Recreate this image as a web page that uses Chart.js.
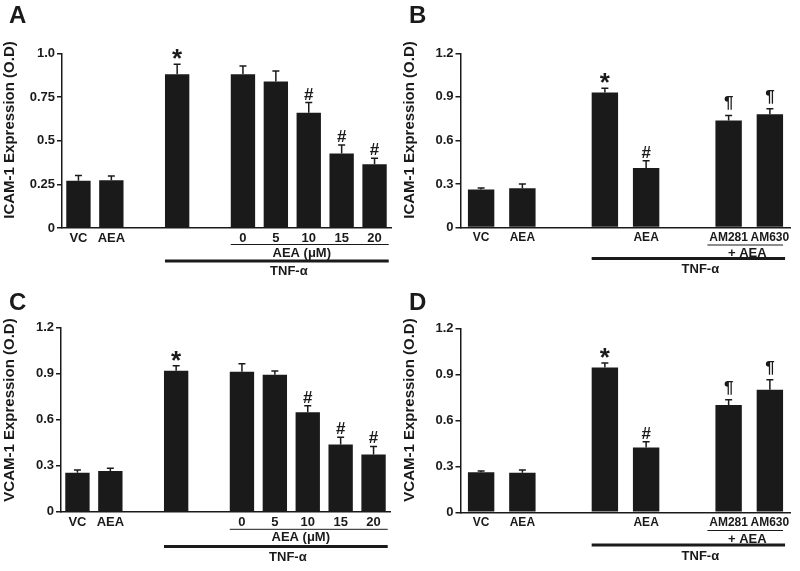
<!DOCTYPE html>
<html>
<head>
<meta charset="utf-8">
<script src="https://cdn.jsdelivr.net/npm/chart.js@4"></script>
<style>
  body { margin: 0; background: #fff; }
  #wrap { position: relative; width: 800px; height: 571px; }
  canvas { position: absolute; }
</style>
</head>
<body>
<div id="wrap">
  <canvas id="chartA" width="400" height="285" style="left:0;top:0"></canvas>
  <canvas id="chartB" width="400" height="285" style="left:400px;top:0"></canvas>
  <canvas id="chartC" width="400" height="286" style="left:0;top:285px"></canvas>
  <canvas id="chartD" width="400" height="286" style="left:400px;top:285px"></canvas>
</div>
<script>
// dose panels (A, C): VC, AEA, gap, TNF, gap, TNF + AEA 0..20 uM
const doseLabels = ['VC', 'AEA', '', '', '', '0', '5', '10', '15', '20'];
const doseMarks = ['', '', '', '*', '', '', '', '#', '#', '#'];
const icamDose = [0.27, 0.273, null, 0.88, null, 0.88, 0.838, 0.66, 0.427, 0.365];
const icamDoseErr = [0.03, 0.025, null, 0.057, null, 0.047, 0.061, 0.058, 0.048, 0.034];
const vcamDose = [0.254, 0.265, null, 0.918, null, 0.911, 0.892, 0.647, 0.438, 0.373];
const vcamDoseErr = [0.017, 0.017, null, 0.032, null, 0.052, 0.024, 0.043, 0.046, 0.052];

// antagonist panels (B, D): VC, AEA, gap, TNF, TNF+AEA, gap, AM281, AM630
const antLabels = ['VC', 'AEA', '', '', 'AEA', '', 'AM281', 'AM630'];
const antMarks = ['', '', '', '*', '#', '', '¶', '¶'];
const icamAnt = [0.261, 0.27, null, 0.93, 0.41, null, 0.737, 0.78];
const icamAntErr = [0.011, 0.03, null, 0.03, 0.05, null, 0.035, 0.038];
const vcamAnt = [0.262, 0.258, null, 0.944, 0.423, null, 0.70, 0.80];
const vcamAntErr = [0.008, 0.018, null, 0.03, 0.037, null, 0.034, 0.065];

const yTicksA = [0, 0.25, 0.5, 0.75, 1.0];
const yTickLabelsA = ['0', '0.25', '0.5', '0.75', '1.0'];
const yTicks12 = [0, 0.3, 0.6, 0.9, 1.2];
const yTickLabels12 = ['0', '0.3', '0.6', '0.9', '1.2'];

const FONT = '"Liberation Sans", Arial, Helvetica, sans-serif';
const INK = '#1a1a1a';

const extras = {
  id: 'extras',
  afterDatasetsDraw(chart) {
    const p = chart.options.plugins.extras;
    const ctx = chart.ctx;
    const meta = chart.getDatasetMeta(0);
    const y = chart.scales.y;
    ctx.save();
    ctx.strokeStyle = INK;
    ctx.fillStyle = INK;
    ctx.lineWidth = 1.5;
    meta.data.forEach((bar, i) => {
      const v = p.values[i];
      if (v == null) return;
      const top = y.getPixelForValue(v + p.errors[i]);
      ctx.beginPath();
      ctx.moveTo(bar.x, bar.y);
      ctx.lineTo(bar.x, top);
      ctx.moveTo(bar.x - 3.5, top);
      ctx.lineTo(bar.x + 3.5, top);
      ctx.stroke();
      const m = p.marks[i];
      if (m) {
        const size = m === '*' ? 26 : 17;
        ctx.font = 'bold ' + size + 'px ' + FONT;
        ctx.textAlign = 'center';
        ctx.textBaseline = 'alphabetic';
        const d = ctx.measureText(m).actualBoundingBoxDescent;
        const gap = m === '#' ? 3 : 5;
        ctx.fillText(m, bar.x, top - gap - d);
      }
    });
    ctx.restore();
  },
  afterDraw(chart) {
    const p = chart.options.plugins.extras;
    const ctx = chart.ctx;
    const meta = chart.getDatasetMeta(0);
    ctx.save();
    ctx.fillStyle = INK;
    ctx.strokeStyle = INK;
    // panel letter
    ctx.font = 'bold 24px ' + FONT;
    ctx.textAlign = 'left';
    ctx.textBaseline = 'alphabetic';
    ctx.fillText(p.letter, 9, p.letterY);
    // y title
    ctx.save();
    ctx.translate(p.titleX, p.titleY);
    ctx.rotate(-Math.PI / 2);
    ctx.font = 'bold 15px ' + FONT;
    ctx.textAlign = 'center';
    ctx.textBaseline = 'middle';
    ctx.fillText(p.title, 0, 0);
    ctx.restore();
    // brackets under the axis
    ctx.font = 'bold 13px ' + FONT;
    ctx.textAlign = 'center';
    ctx.textBaseline = 'middle';
    p.brackets.forEach(b => {
      const a = meta.data[b.from], z = meta.data[b.to];
      const x0 = a.x - a.width / 2 + b.dl;
      const x1 = z.x + z.width / 2 + b.dr;
      ctx.lineWidth = b.w;
      ctx.beginPath();
      ctx.moveTo(x0, b.y);
      ctx.lineTo(x1, b.y);
      ctx.stroke();
      ctx.fillText(b.text, (x0 + x1) / 2 + b.dx, b.ty);
    });
    ctx.restore();
  }
};

function panel(id, cfg) {
  const canvas = document.getElementById(id);
  const H = canvas.height;
  return new Chart(canvas.getContext('2d'), {
    type: 'bar',
    data: {
      labels: cfg.labels,
      datasets: [{
        data: cfg.values,
        backgroundColor: INK,
        borderWidth: 0,
        barPercentage: cfg.barPct,
        categoryPercentage: 1
      }]
    },
    options: {
      responsive: false,
      animation: false,
      devicePixelRatio: 1,
      layout: { padding: { left: 0, top: cfg.top, right: 400 - cfg.right, bottom: 0 } },
      plugins: {
        legend: { display: false },
        tooltip: { enabled: false },
        extras: {
          values: cfg.values, errors: cfg.errors, marks: cfg.marks,
          letter: cfg.letter, letterY: cfg.letterY,
          title: cfg.title, titleX: 10, titleY: cfg.titleY,
          brackets: cfg.brackets
        }
      },
      scales: {
        x: {
          offset: true,
          grid: { display: false, drawTicks: false },
          border: { display: true, color: INK, width: 1.5 },
          ticks: { color: INK, font: { family: FONT, size: cfg.xFont, weight: 'bold' }, padding: 3, autoSkip: false, maxRotation: 0 },
          afterFit(s) { s.height = H - cfg.bottom; }
        },
        y: {
          min: 0,
          max: cfg.yTicks[cfg.yTicks.length - 1],
          afterBuildTicks(s) { s.ticks = cfg.yTicks.map(v => ({ value: v })); },
          grid: { drawOnChartArea: false, drawTicks: true, tickLength: 5, color: INK, lineWidth: 1.5 },
          border: { color: INK, width: 1.5 },
          ticks: {
            color: INK, padding: 2,
            font: { family: FONT, size: 13, weight: 'bold' },
            callback: (v, i) => cfg.yTickLabels[i]
          },
          afterFit(s) { s.width = cfg.left; }
        }
      }
    },
    plugins: [extras]
  });
}

panel('chartA', {
  labels: doseLabels, values: icamDose, errors: icamDoseErr, marks: doseMarks,
  yTicks: yTicksA, yTickLabels: yTickLabelsA, barPct: 0.74, xFont: 13,
  left: 62, right: 391, top: 53.3, bottom: 228,
  letter: 'A', letterY: 23, title: 'ICAM-1 Expression (O.D)', titleY: 130,
  brackets: [
    { from: 5, to: 9, dl: 0, dr: 2, y: 244.5, w: 1, text: 'AEA (μM)', ty: 253, dx: -8 },
    { from: 3, to: 9, dl: 0, dr: 2, y: 261, w: 3, text: 'TNF-α', ty: 271.5, dx: 12 }
  ]
});

panel('chartB', {
  labels: antLabels, values: icamAnt, errors: icamAntErr, marks: antMarks,
  yTicks: yTicks12, yTickLabels: yTickLabels12, barPct: 0.64, xFont: 12,
  left: 60.5, right: 390.5, top: 53.3, bottom: 227.5,
  letter: 'B', letterY: 23, title: 'ICAM-1 Expression (O.D)', titleY: 130,
  brackets: [
    { from: 6, to: 7, dl: -8, dr: 0, y: 245, w: 1, text: '+ AEA', ty: 253.5, dx: 2 },
    { from: 3, to: 7, dl: 0, dr: 2, y: 258.5, w: 3, text: 'TNF-α', ty: 269, dx: 12 }
  ]
});

panel('chartC', {
  labels: doseLabels, values: vcamDose, errors: vcamDoseErr, marks: doseMarks,
  yTicks: yTicks12, yTickLabels: yTickLabels12, barPct: 0.74, xFont: 13,
  left: 61, right: 390, top: 42.3, bottom: 226.7,
  letter: 'C', letterY: 25, title: 'VCAM-1 Expression (O.D)', titleY: 125,
  brackets: [
    { from: 5, to: 9, dl: 0, dr: 2, y: 244.3, w: 1, text: 'AEA (μM)', ty: 252.8, dx: -8 },
    { from: 3, to: 9, dl: 0, dr: 2, y: 261.5, w: 3, text: 'TNF-α', ty: 272, dx: 12 }
  ]
});

panel('chartD', {
  labels: antLabels, values: vcamAnt, errors: vcamAntErr, marks: antMarks,
  yTicks: yTicks12, yTickLabels: yTickLabels12, barPct: 0.64, xFont: 12,
  left: 60.5, right: 390.5, top: 43.3, bottom: 227.3,
  letter: 'D', letterY: 25, title: 'VCAM-1 Expression (O.D)', titleY: 125,
  brackets: [
    { from: 6, to: 7, dl: -8, dr: 0, y: 245.5, w: 1, text: '+ AEA', ty: 254, dx: 2 },
    { from: 3, to: 7, dl: 0, dr: 2, y: 260, w: 3, text: 'TNF-α', ty: 271, dx: 12 }
  ]
});
</script>
</body>
</html>
